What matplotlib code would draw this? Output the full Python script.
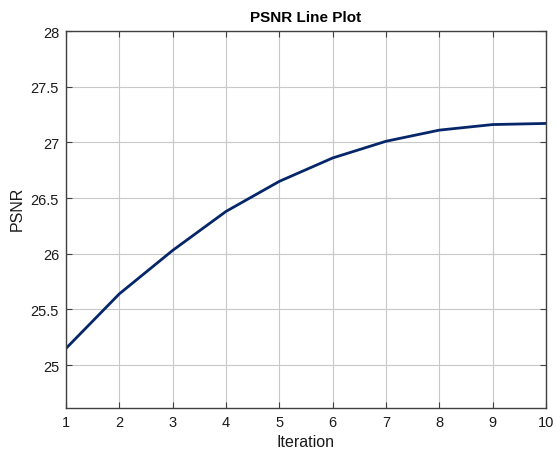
import matplotlib
matplotlib.use('Agg')
import matplotlib.pyplot as plt

plt.rcParams['font.family'] = ['Liberation Sans', 'DejaVu Sans']

# Daten
iterations = [1, 2, 3, 4, 5, 6, 7, 8, 9, 10]
psnr = [25.15, 25.64, 26.03, 26.38, 26.65, 26.86, 27.01, 27.11, 27.16, 27.17]
yticks = [25, 25.5, 26, 26.5, 27, 27.5, 28]
ytick_labels = ['25', '25.5', '26', '26.5', '27', '27.5', '28']

fig = plt.figure(figsize=(5.56, 4.56), dpi=100)
ax = fig.add_axes([66 / 556, 1 - 409 / 456, 480 / 556, 377 / 456])

ax.plot(iterations, psnr, color='#06266a', linewidth=2.0)

ax.set_xlim(1, 10)
ax.set_ylim(24.615, 28)
ax.set_xticks(iterations)
ax.set_yticks(yticks)
ax.set_yticklabels(ytick_labels)

ax.grid(True, color='#c8c8c8', linewidth=0.8)
ax.set_axisbelow(True)
for s in ax.spines.values():
    s.set_color('#404040')
    s.set_linewidth(1.0)
ax.tick_params(direction='in', top=True, right=True, length=4, width=0.8,
               color='#404040', labelsize=10.5, labelcolor='#1a1a1a', pad=5)

ax.set_title('PSNR Line Plot', fontsize=11, fontweight='bold', pad=7)
ax.set_xlabel('Iteration', fontsize=11.5, color='#1a1a1a', labelpad=4)
ax.set_ylabel('PSNR', fontsize=11.5, color='#1a1a1a')
ax.yaxis.set_label_coords(-0.085, 0.53)

fig.savefig('out.png', dpi=100)
